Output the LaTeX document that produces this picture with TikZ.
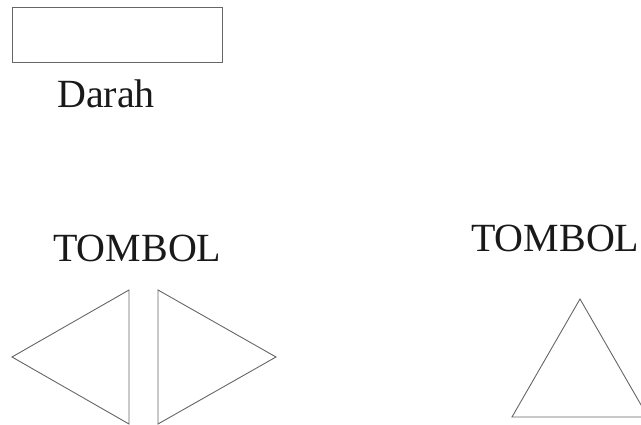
\documentclass[tikz,border=0pt]{standalone}
\usepackage{fontspec}
\setmainfont{Liberation Serif}
\tikzset{
  outline/.style={draw=black!60, line width=0.9pt, line join=miter},
  caption/.style={inner sep=0pt, anchor=base west, font=\fontsize{40}{44}\selectfont, text=black!90}
}
\begin{document}
\begin{tikzpicture}[x=1pt, y=-1pt]
  \useasboundingbox (0,0) rectangle (641,425);
  \clip (0,0) rectangle (641,425);
  % health bar
  \draw[outline] (12,7) rectangle (222,62);
  \node[caption] (darah) at (57,108) {Darah};
  % left / right buttons
  \node[caption] (tombolLR) at (53,262) {TOMBOL};
  \draw[outline] (129,290) -- (12,357) -- (129,424) -- cycle;
  \draw[outline] (158,290) -- (276,357) -- (158,424) -- cycle;
  % jump button
  \node[caption] (tombolUp) at (471,252) {TOMBOL};
  \draw[outline] (580,299) -- (512,417) -- (648,417) -- cycle;
\end{tikzpicture}
\end{document}
